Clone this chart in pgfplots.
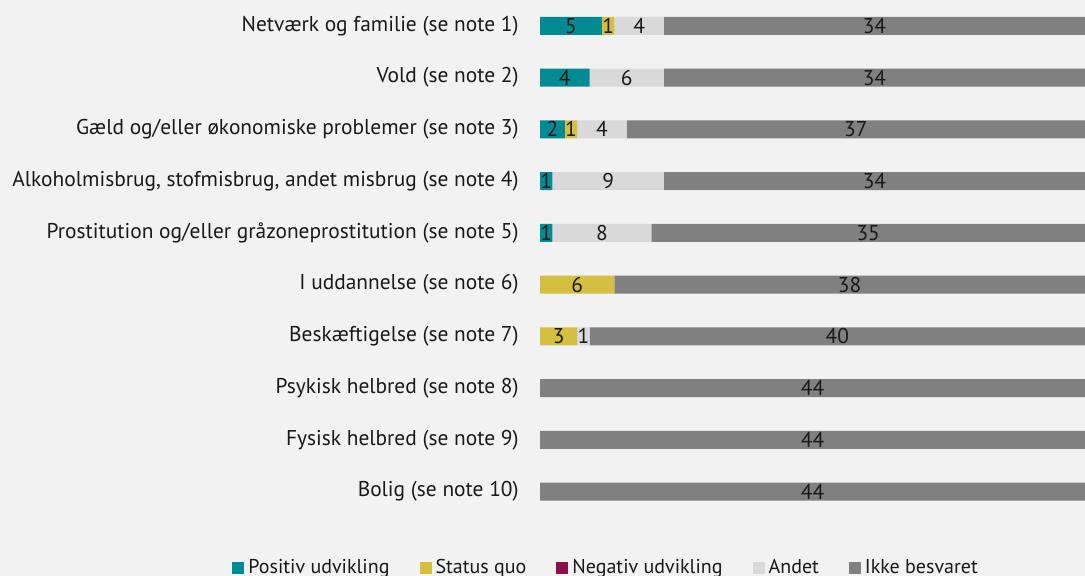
\documentclass[border=0pt]{standalone}
\usepackage{pgfplots}
\pgfplotsset{compat=1.18}
\usepackage{pgfplotstable}
\usepackage{fontspec}
\setmainfont{PT Sans}
\definecolor{bg}{HTML}{F2F2F2}
\definecolor{cpos}{HTML}{008B94}
\definecolor{csq}{HTML}{D4BF40}
\definecolor{cneg}{HTML}{8B1249}
\definecolor{cand}{HTML}{D9D9D9}
\definecolor{cikke}{HTML}{808080}
\pgfplotstableread{
pos sq neg andet ikke
5 1 0 4 34
4 0 0 6 34
2 1 0 4 37
1 0 0 9 34
1 0 0 8 35
0 6 0 0 38
0 3 0 1 40
0 0 0 0 44
0 0 0 0 44
0 0 0 0 44
}\data
\begin{document}
\fontsize{10.7}{12.8}\selectfont
\begin{tikzpicture}
\fill[bg] (0,0) rectangle (542.5pt,288pt);
\begin{axis}[
  at={(270pt,29.25pt)}, anchor=south west,
  scale only axis, width=272.5pt, height=258.75pt,
  xbar stacked, bar width=9pt,
  xmin=0, xmax=44, ymin=-0.5, ymax=9.5, y dir=reverse,
  axis line style={draw=none},
  major tick length=0pt,
  xtick=\empty,
  ytick={0,...,9},
  yticklabels={Netværk og familie (se note 1),Vold (se note 2),Gæld og/eller økonomiske problemer (se note 3),{Alkoholmisbrug, stofmisbrug, andet misbrug (se note 4)},Prostitution og/eller gråzoneprostitution (se note 5),I uddannelse (se note 6),Beskæftigelse (se note 7),Psykisk helbred (se note 8),Fysisk helbred (se note 9),Bolig (se note 10)},
  yticklabel style={anchor=east, inner sep=0pt, xshift=-10.5pt, text=black!90},
  /pgf/number format/assume math mode=true,
  clip=false,
  point meta=rawx,
  nodes near coords={\pgfmathfloatifflags{\pgfplotspointmeta}{0}{}{\pgfmathprintnumber{\pgfplotspointmeta}}},
  every node near coord/.append style={anchor=center, text=black!90, inner sep=0pt},
  legend columns=-1,
  legend image code/.code={\fill[#1] (0pt,-3pt) rectangle (6pt,3pt);},
  legend style={at={(-0.565,-0.0976)}, anchor=west, draw=none, fill=none, inner sep=0pt,
    font=\fontsize{10}{12}\selectfont,
    nodes={inner xsep=2pt, inner ysep=0pt, text=black!90},
    /tikz/every even column/.append style={column sep=13pt}},
]
\addplot[fill=cpos, draw=none] table[x=pos, y expr=\coordindex] {\data};
\addplot[fill=csq, draw=none] table[x=sq, y expr=\coordindex] {\data};
\addplot[fill=cneg, draw=none] table[x=neg, y expr=\coordindex] {\data};
\addplot[fill=cand, draw=none] table[x=andet, y expr=\coordindex] {\data};
\addplot[fill=cikke, draw=none] table[x=ikke, y expr=\coordindex] {\data};
\legend{Positiv udvikling,Status quo,Negativ udvikling,Andet,Ikke besvaret}
\end{axis}
\pgfresetboundingbox
\useasboundingbox (0,0) rectangle (542.5pt,288pt);
\end{tikzpicture}
\end{document}
